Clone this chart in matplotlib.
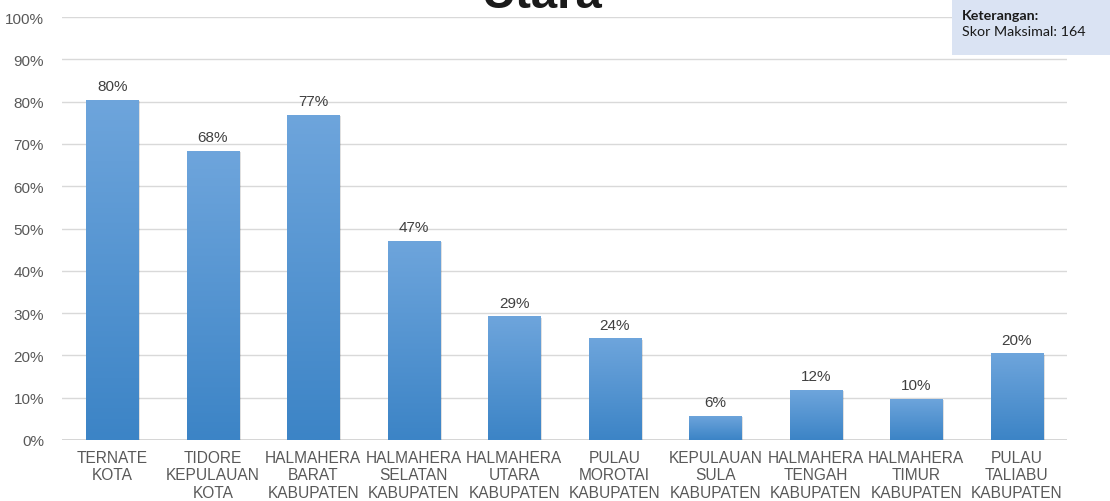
import matplotlib.pyplot as plt
import numpy as np
from matplotlib.patches import Rectangle, Circle
from matplotlib.colors import LinearSegmentedColormap

categories = [
    "TERNATE\nKOTA",
    "TIDORE\nKEPULAUAN\nKOTA",
    "HALMAHERA\nBARAT\nKABUPATEN",
    "HALMAHERA\nSELATAN\nKABUPATEN",
    "HALMAHERA\nUTARA\nKABUPATEN",
    "PULAU\nMOROTAI\nKABUPATEN",
    "KEPULAUAN\nSULA\nKABUPATEN",
    "HALMAHERA\nTENGAH\nKABUPATEN",
    "HALMAHERA\nTIMUR\nKABUPATEN",
    "PULAU\nTALIABU\nKABUPATEN",
]
values = [80.4, 68.3, 76.9, 47.1, 29.2, 24.0, 5.7, 11.8, 9.8, 20.5]
yticks = [0, 10, 20, 30, 40, 50, 60, 70, 80, 90, 100]

W, H = 1110, 502
fig = plt.figure(figsize=(W / 100, H / 100), dpi=100)
ax = fig.add_axes([62 / W, 1 - 441 / H, (1067 - 62) / W, (441 - 18) / H])

grad = LinearSegmentedColormap.from_list("bar", ["#3C84C6", "#6EA5DC"])
gimg = np.linspace(0, 1, 256).reshape(-1, 1)
width = 0.52

x = np.arange(len(categories))
for xi, v in zip(x, values):
    # soft shadow
    sh = Rectangle((xi - width / 2 + 0.02, 0), width, v - 0.3, facecolor="#000000",
                   alpha=0.12, edgecolor="none", zorder=2)
    ax.add_patch(sh)
    rect = Rectangle((xi - width / 2, 0), width, v, facecolor="none", edgecolor="none", zorder=3)
    ax.add_patch(rect)
    im = ax.imshow(gimg, cmap=grad, origin="lower", aspect="auto",
                   extent=(xi - width / 2, xi + width / 2, 0, v), zorder=3)
    im.set_clip_path(rect)
    ax.text(xi, v + 1.6, f"{round(v):d}%", ha="center", va="bottom",
            fontsize=11, color="#404040", family="Liberation Sans")

ax.set_xlim(-0.5, len(categories) - 0.5)
ax.set_ylim(0, 100)
ax.set_yticks(yticks)
ax.set_yticklabels([f"{t}%" for t in yticks], family="Liberation Sans", fontsize=11, color="#595959")
ax.set_xticks(x)
ax.set_xticklabels(categories, family="Liberation Sans", fontsize=11.2, color="#595959",
                   linespacing=1.2)
ax.tick_params(length=0, axis="y", pad=13)
ax.tick_params(length=0, axis="x", pad=7)
for s in ax.spines.values():
    s.set_visible(False)
ax.grid(axis="y", color="#D9D9D9", linewidth=1.0, zorder=0)
ax.set_axisbelow(True)
ax.axhline(0, color="#D0D0D0", linewidth=1.2, zorder=1)

# cut-off title
fig.text(542 / W, 1 - 8 / H, "Utara", ha="center", va="baseline",
         fontsize=34, fontweight="bold", color="#1a1a1a", family="Liberation Sans")

# legend box
fig.patches.append(Rectangle((952 / W, 1 - 56 / H), (W - 952) / W, 56 / H,
                             transform=fig.transFigure, facecolor="#DAE3F3",
                             edgecolor="none", zorder=5))
fig.text(962 / W, 1 - 16 / H, "Keterangan:", ha="left", va="center", fontsize=10.3,
         fontweight="bold", color="#1a1a1a", family="Lato", zorder=6)
fig.text(962 / W, 1 - 32 / H, "Skor Maksimal: 164", ha="left", va="center", fontsize=10.3,
         color="#1a1a1a", family="Lato", zorder=6)

# decorative corner shape
corner = Circle((1200, -150), 170, transform=None, facecolor="#1E6B5C", edgecolor="none",
                zorder=5)
fig.patches.append(corner)

fig.savefig("out.png", dpi=100)
